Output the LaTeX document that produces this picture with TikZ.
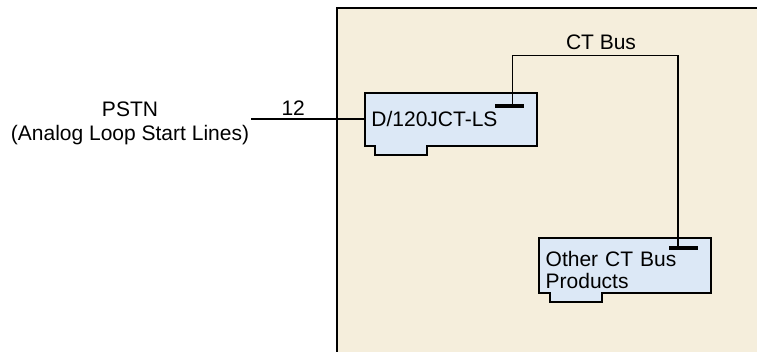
\documentclass[tikz,border=0pt]{standalone}
\usepackage{fontspec}
\setmainfont{Liberation Sans}
\usetikzlibrary{positioning, calc}
\definecolor{ChassisBeige}{RGB}{245, 238, 220}
\definecolor{CardBlue}{RGB}{220, 232, 246}

\begin{document}
\begin{tikzpicture}[x=1pt, y=-1pt,
    every node/.style={font=\fontsize{21}{21.6}\selectfont},
    card/.style={fill=CardBlue, anchor=north west, minimum width=172pt, minimum height=52.6pt,
      text width=159pt, inner xsep=6.5pt, inner ysep=0pt, align=left},
    outline/.style={line width=2pt},
    bus/.style={line width=1.6pt},
    busbar/.style={line width=4.5pt}]
    \useasboundingbox (0,0) rectangle (757,352);
    \clip (0,0) rectangle (757,352);
    % chassis
    \draw[fill=ChassisBeige, line width=2pt] (337,8) rectangle (790,390);
    % boards
    \node[card] (jct) at (364.7,92.7) {D/120JCT-LS};
    \node[card, minimum width=171.7pt, text height=28.4pt, text depth=26pt] (other) at (539,238) {Other CT Bus\\Products};
    \foreach \c in {jct, other} {
        \fill[CardBlue] ($(\c.south west)+(10.6,-1)$) rectangle ++(52,10.4);
        \draw[outline] (\c.south west) |- (\c.north east) |- ($(\c.south west)+(62.6,0)$)
            -- ++(0,9.4) -- ++(-52,0) -- ++(0,-9.4) -- cycle;
    }
    % CT bus
    \coordinate (jctbus) at (512.3,106);
    \coordinate (otherbus) at (677.7,248);
    \coordinate (bustop) at (601,55.7);
    \draw[busbar] ([xshift=-17pt]jctbus) -- ([xshift=11.7pt]jctbus);
    \draw[busbar] ([xshift=-8.4pt]otherbus) -- ([xshift=20.6pt]otherbus);
    \draw[bus] (jctbus) |- (bustop) -| (otherbus);
    \node[above, inner sep=5.5pt] (ctbus) at (bustop) {CT Bus};
    % network side
    \node[align=center, inner sep=2pt, font=\fontsize{21}{24}\selectfont] (pstn) at (130,123.5) {PSTN\\(Analog Loop Start Lines)};
    \draw[bus] (pstn.east |- jct.west) -- (jct.west) node[pos=0.37, above] (lines) {12};
\end{tikzpicture}
\end{document}
